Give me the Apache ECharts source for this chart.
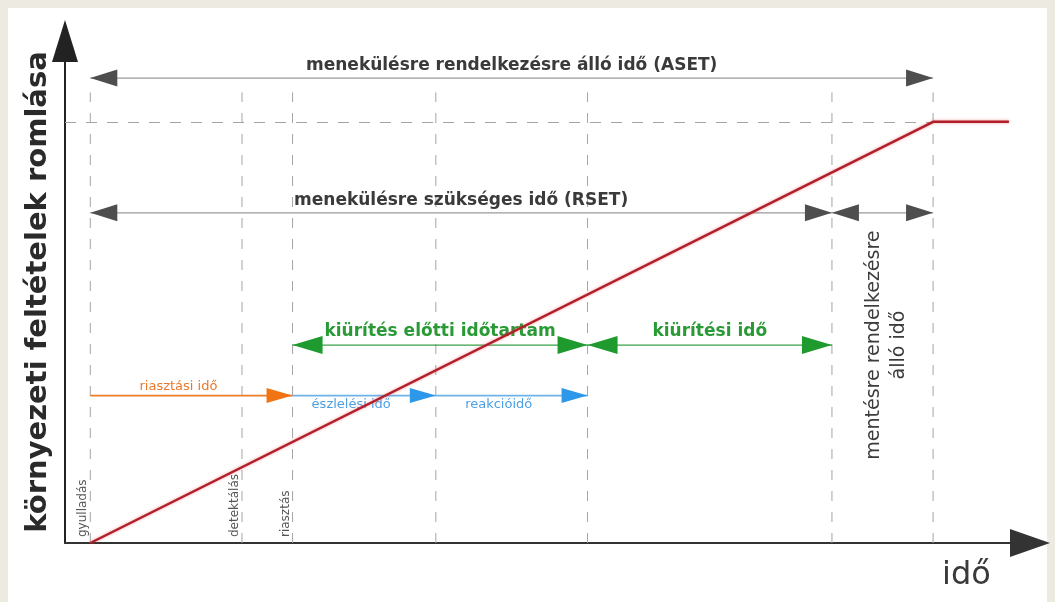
<!DOCTYPE html>
<html>
<head>
<meta charset="utf-8">
<script src="https://cdn.jsdelivr.net/npm/echarts@6/dist/echarts.min.js"></script>
<style>
html,body{margin:0;padding:0;background:#edeae1;}
#chart{width:1055px;height:602px;}
</style>
</head>
<body>
<div id="chart"></div>
<script>
// ---- data ----
const yAxisTitle = 'környezeti feltételek romlása';
const xAxisTitle = 'idő';
// event times (time units, ignition = 0, end of ASET = 100)
const eventTimes  = [0, 18, 24, 41, 59, 88, 100];
const eventLabels = ['gyulladás', 'detektálás', 'riasztás', '', '', '', ''];
// degradation of conditions (time, level)
const degradeTime  = [0, 100, 109];
const degradeLevel = [0, 100, 100];
const criticalLevel = 100;
// time spans (arrows)
const spanNames = ['menekülésre rendelkezésre álló idő (ASET)', 'menekülésre szükséges idő (RSET)', '',
                   'kiürítés előtti időtartam', 'kiürítési idő',
                   'riasztási idő', 'észlelési idő', 'reakcióidő'];
const spanFrom  = [0, 0, 88, 24, 59, 0, 24, 41];
const spanTo    = [100, 88, 100, 59, 88, 24, 41, 59];
const spanLevel = [110.4, 78.4, 78.4, 47, 47, 35, 35, 35];
const spanGroup = [0, 0, 0, 1, 1, 2, 3, 3];
const noteText = 'mentésre rendelkezésre\nálló idő';
const notePos  = [94.5, 47];

// ---- styles ----
const groupStyles = [
  {line:'#9a9a9a', lw:1.2, head:'#4e4e4e', L:27, W:8.5, both:true,  font:'bold 17px "DejaVu Sans"', color:'#3a3a3a', dy:-12},
  {line:'#3aa048', lw:1.2, head:'#1e9a2e', L:30, W:9, both:true,  font:'bold 17px "DejaVu Sans"', color:'#2a9a36', dy:-13},
  {line:'#ee7d2a', lw:1.6, head:'#f27312', L:26, W:7.5, both:false, font:'normal 13px "DejaVu Sans"', color:'#e8782c', dy:-9},
  {line:'#6fb2e8', lw:1.6, head:'#2d97ea', L:26, W:7.5, both:false, font:'normal 13px "DejaVu Sans"', color:'#4b9fe2', dy:9}
];

const xMin = -3, xMax = 111.5, yMin = 0, yMax = 119.2;
const vTop = 107;

const chart = echarts.init(document.getElementById('chart'));

const spanData = spanFrom.map((f, i) => [f, spanTo[i], spanLevel[i], spanGroup[i]]);
const eventData = eventTimes.map((t, i) => [t, 0, i]);

function renderSpan(params, api) {
  const i = params.dataIndex;
  const from = api.value(0), to = api.value(1), lvl = api.value(2), g = api.value(3);
  const s = groupStyles[g];
  const p1 = api.coord([from, lvl]);
  const p2 = api.coord([to, lvl]);
  const y = p1[1];
  const children = [];
  children.push({type:'line', shape:{x1:p1[0], y1:y, x2:p2[0], y2:y}, style:{stroke:s.line, lineWidth:s.lw}});
  children.push({type:'polygon', shape:{points:[[p2[0], y], [p2[0]-s.L, y-s.W], [p2[0]-s.L, y+s.W]]}, style:{fill:s.head}});
  if (s.both) {
    children.push({type:'polygon', shape:{points:[[p1[0], y], [p1[0]+s.L, y-s.W], [p1[0]+s.L, y+s.W]]}, style:{fill:s.head}});
  }
  const sx1 = s.both ? p1[0] + s.L : p1[0];
  const sx2 = p2[0] - s.L;
  if (spanNames[i]) {
    children.push({type:'text', x:(sx1+sx2)/2, y:y + s.dy,
      style:{text:spanNames[i], font:s.font, fill:s.color, align:'center', verticalAlign:'middle'}});
  }
  return {type:'group', children};
}

function renderEvent(params, api) {
  const i = params.dataIndex;
  const p0 = api.coord([api.value(0), 0]);
  const pt = api.coord([api.value(0), vTop]);
  const children = [
    {type:'line', shape:{x1:p0[0], y1:p0[1], x2:pt[0], y2:pt[1]},
     style:{stroke:'#a4a4a4', lineWidth:1, lineDash:[10, 11]}}
  ];
  if (eventLabels[i]) {
    children.push({type:'text', x:p0[0]-1, y:p0[1]-6, rotation:Math.PI/2,
      style:{text:eventLabels[i], font:'normal 12px "DejaVu Sans"', fill:'#555',
             align:'left', verticalAlign:'bottom'}});
  }
  return {type:'group', children};
}

function renderNote(params, api) {
  const p = api.coord([api.value(0), api.value(1)]);
  return {type:'text', x:p[0], y:p[1], rotation:Math.PI/2,
    style:{text:noteText, font:'normal 19px "DejaVu Sans"', fill:'#3c3c3c',
           align:'center', verticalAlign:'middle', lineHeight:25}};
}

const option = {
  backgroundColor:'#edeae1',
  animation:false,
  graphic:[
    {type:'rect', left:8, top:8, shape:{width:1039, height:594}, style:{fill:'#ffffff'}, z:-10, silent:true},
    {type:'text', x:942, y:592, style:{text:xAxisTitle, font:'normal 32px "DejaVu Sans"', fill:'#3a3a3a',
       align:'left', verticalAlign:'bottom'}, z:10}
  ],
  grid:{left:65, right:25, top:41, bottom:59},
  xAxis:{
    type:'value', min:xMin, max:xMax,
    axisLine:{show:true, onZero:false, symbol:['none','triangle'], symbolSize:[28,40],
              lineStyle:{color:'#333', width:2}},
    axisTick:{show:false}, axisLabel:{show:false}, splitLine:{show:false}
  },
  yAxis:{
    type:'value', min:yMin, max:yMax,
    name:yAxisTitle, nameLocation:'middle', nameRotate:90, nameGap:12,
    nameTextStyle:{fontFamily:'DejaVu Sans', fontWeight:'bold', fontSize:29, color:'#2a2a2a'},
    axisLine:{show:true, onZero:false, symbol:['none','triangle'], symbolSize:[26,42],
              lineStyle:{color:'#222', width:2}},
    axisTick:{show:false}, axisLabel:{show:false}, splitLine:{show:false}
  },
  series:[
    {type:'custom', name:'events', renderItem:renderEvent, data:eventData, clip:false, z:1,
     encode:{x:0, y:1}, silent:true},
    {type:'line', name:'degradation', data:degradeTime.map((t,i)=>[t, degradeLevel[i]]),
     showSymbol:false, symbol:'none', z:5,
     lineStyle:{color:'#b01f2a', width:2.5, shadowColor:'rgba(235,70,70,0.55)', shadowBlur:3},
     markLine:{silent:true, symbol:'none', label:{show:false},
       lineStyle:{color:'#a4a4a4', type:[11,10], width:1},
       data:[[{coord:[xMin, criticalLevel]}, {coord:[100, criticalLevel]}]]}},
    {type:'custom', name:'spans', renderItem:renderSpan, data:spanData, clip:false, z:3,
     encode:{x:[0,1], y:2}, silent:true},
    {type:'custom', name:'note', renderItem:renderNote, data:[notePos], clip:false, z:3,
     encode:{x:0, y:1}, silent:true}
  ]
};
chart.setOption(option);
</script>
</body>
</html>
